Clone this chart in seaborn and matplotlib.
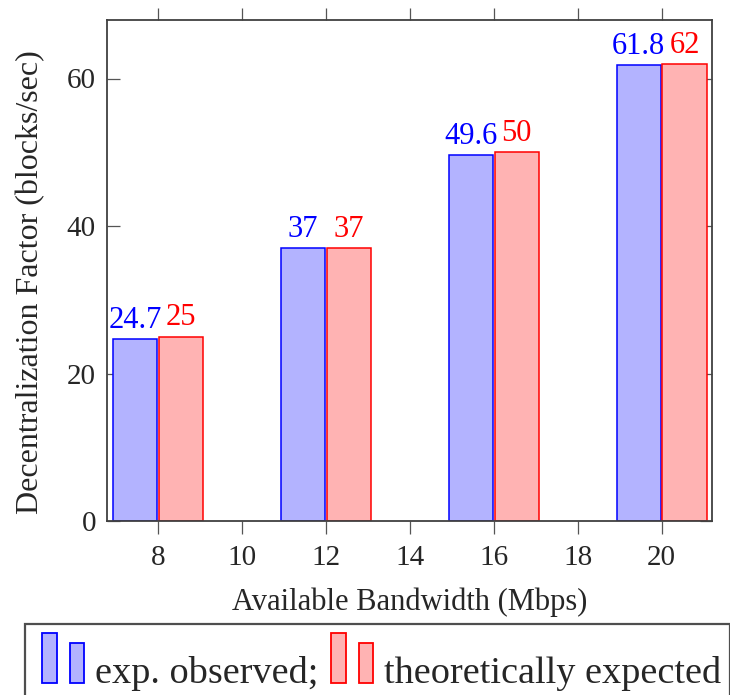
import matplotlib
matplotlib.use('Agg')
import matplotlib.pyplot as plt
import seaborn as sns
import pandas as pd
from matplotlib.patches import Rectangle
from matplotlib.legend_handler import HandlerBase

# ---- data ----
bandwidth = [8, 12, 16, 20]
observed = [24.7, 37, 49.6, 61.8]
expected = [25, 37, 50, 62]
series_names = ["exp. observed;", "theoretically expected"]
x_ticks = [8, 10, 12, 14, 16, 18, 20]
y_ticks = [0, 20, 40, 60]
x_label = "Available Bandwidth (Mbps)"
y_label = "Decentralization Factor (blocks/sec)"

fill_colors = ["#B3B3FF", "#FFB3B3"]
edge_colors = ["#0000FF", "#FF0000"]

sns.set_style("ticks")
plt.rcParams['font.family'] = ['Liberation Serif', 'DejaVu Serif']
plt.rcParams['mathtext.fontset'] = 'stix'

df = pd.DataFrame({
    "bw": bandwidth * 2,
    "val": observed + expected,
    "series": [series_names[0]] * len(bandwidth) + [series_names[1]] * len(bandwidth),
})

W, H = 730, 695
fig = plt.figure(figsize=(W / 100, H / 100), dpi=100)
ax = fig.add_axes([107 / W, 1 - 521 / H, (712 - 107) / W, (521 - 19.5) / H])

sns.barplot(data=df, x="bw", y="val", hue="series", hue_order=series_names,
            palette=fill_colors, native_scale=True, width=0.545, gap=0.038,
            errorbar=None, saturation=1, legend=False, ax=ax)

for cont, ec in zip(ax.containers, edge_colors):
    for p in cont:
        p.set_edgecolor(ec)
        p.set_linewidth(1.1)
    ax.bar_label(cont, fmt="%g", color=ec, fontsize=22, padding=3)

ax.set_xlim(6.79, 21.2)
ax.set_ylim(0, 68)
ax.set_xticks(x_ticks)
ax.set_xticklabels([str(t) for t in x_ticks])
ax.set_yticks(y_ticks)
ax.set_yticklabels([str(t) for t in y_ticks])

ax.tick_params(axis='x', direction='out', top=True, bottom=True, length=9,
               width=0.9, color='#555555', labelsize=21, pad=8)
ax.tick_params(axis='y', direction='in', left=True, right=True, length=9,
               width=0.9, color='#555555', labelsize=21, pad=8)
for s in ax.spines.values():
    s.set_color('#404040')
    s.set_linewidth(1.3)

ax.set_xlabel(x_label, fontsize=22, labelpad=12)
ax.set_ylabel(y_label, fontsize=23)
ax.yaxis.set_label_coords(-0.1025, 0.477)


class TwoBarHandler(HandlerBase):
    def create_artists(self, legend, orig_handle, xdescent, ydescent, width,
                       height, fontsize, trans):
        fc = orig_handle.get_facecolor()
        ec = orig_handle.get_edgecolor()
        bw = 10.4
        x2 = -xdescent + width - bw
        x1 = x2 - 19.7
        r1 = Rectangle((x1, 0), bw, 1.3 * fontsize, facecolor=fc,
                       edgecolor=ec, linewidth=1.3, transform=trans)
        r2 = Rectangle((x2, 0), bw, 1.04 * fontsize,
                       facecolor=fc, edgecolor=ec, linewidth=1.3, transform=trans)
        return [r1, r2]


handles = [Rectangle((0, 0), 1, 1, facecolor=fc, edgecolor=ec)
           for fc, ec in zip(fill_colors, edge_colors)]
leg = fig.legend(handles, series_names, loc='upper left',
                 bbox_to_anchor=(25 / W, 1 - 624 / H), bbox_transform=fig.transFigure,
                 ncol=2, frameon=True, fancybox=False, edgecolor='#222222',
                 borderaxespad=0, borderpad=0.24, handlelength=1.31,
                 handleheight=2.7, handletextpad=0.27, columnspacing=0.14,
                 fontsize=27.5, handler_map={Rectangle: TwoBarHandler()})
leg.get_frame().set_linewidth(1.6)

fig.savefig("out.png", dpi=100)
